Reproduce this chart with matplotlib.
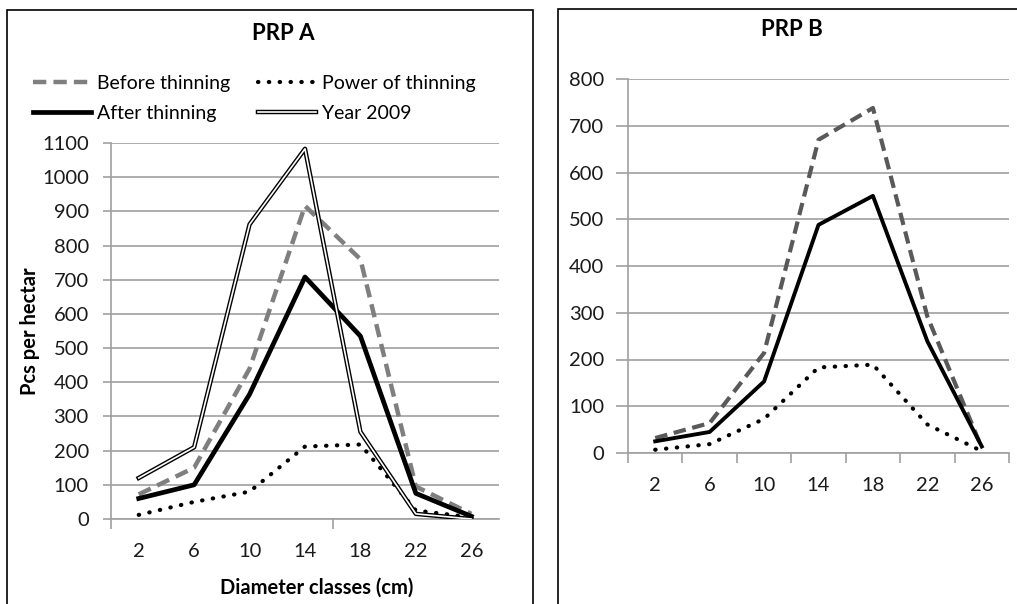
import matplotlib
matplotlib.use('Agg')
import matplotlib.pyplot as plt
from matplotlib.lines import Line2D
from matplotlib.patches import Rectangle

plt.rcParams['font.family'] = ['Lato', 'DejaVu Sans']

# categories (diameter classes, cm)
classes = ['2', '6', '10', '14', '18', '22', '26']

# PRP A
a_before = [72, 150, 440, 916, 760, 95, 15]
a_after = [60, 100, 365, 708, 535, 75, 8]
a_power = [12, 50, 80, 212, 218, 25, 5]
a_2009 = [120, 210, 862, 1083, 255, 15, 0]

# PRP B
b_before = [32, 64, 214, 670, 738, 292, 11]
b_after = [25, 45, 153, 488, 550, 239, 14]
b_power = [7, 19, 73, 183, 189, 61, 4]

W, H = 1017, 604
fig = plt.figure(figsize=(W / 100, H / 100), dpi=100)

# panel borders
fig.patches.append(Rectangle((7 / W, -0.05), 526 / W, 1.05 - 10 / H,
                             transform=fig.transFigure, fill=False,
                             edgecolor='black', lw=1.2))
fig.patches.append(Rectangle((558 / W, -0.05), 470 / W, 1.05 - 9 / H,
                             transform=fig.transFigure, fill=False,
                             edgecolor='black', lw=1.2))

grid_c = '#a0a0a0'
txt_c = '#1a1a1a'
x = list(range(len(classes)))
dots = (0, (0.1, 2.5))


def style_axes(ax, ymax, tick_len, xtick_bounds, ypad):
    ax.set_xlim(-0.5, len(classes) - 0.5)
    ax.set_ylim(0, ymax)
    ax.set_yticks(range(0, ymax + 1, 100))
    ax.yaxis.grid(True, color=grid_c, lw=1.2)
    ax.set_axisbelow(True)
    for s in ['top', 'right']:
        ax.spines[s].set_visible(False)
    for s in ['left', 'bottom']:
        ax.spines[s].set_color(grid_c)
        ax.spines[s].set_linewidth(1.2)
    ax.tick_params(axis='y', direction='out', length=tick_len, width=1.2,
                   color=grid_c, labelsize=14.5, pad=ypad, labelcolor=txt_c)
    ax.set_xticks(x)
    ax.set_xticklabels(classes)
    ax.tick_params(axis='x', which='major', length=0, pad=17, labelsize=14.5,
                   labelcolor=txt_c)
    ax.set_xticks(xtick_bounds, minor=True)
    ax.tick_params(axis='x', which='minor', direction='out', length=7,
                   width=1.2, color=grid_c)


# ---- PRP A ----
ax1 = fig.add_axes([111 / W, 1 - 519 / H, 388 / W, 376 / H])
style_axes(ax1, 1100, 6, [-0.5, 3.5], 10)
ax1.plot(x, a_before, color='#7f7f7f', lw=3.2, ls=(0, (3, 1.6)), zorder=3)
ax1.plot(x, a_power, color='black', lw=3.0, ls=dots,
         dash_capstyle='round', zorder=3)
ax1.plot(x, a_after, color='black', lw=3.4, zorder=4)
ax1.plot(x, a_2009, color='black', lw=3.2, zorder=5)
ax1.plot(x, a_2009, color='white', lw=1.2, zorder=6)
ax1.set_ylabel('Pcs per hectar', fontsize=14.5, fontweight='bold')
ax1.yaxis.set_label_coords(-0.182, 0.5)
ax1.set_xlabel('Diameter classes (cm)', fontsize=14.5, fontweight='bold')
ax1.xaxis.set_label_coords(0.53, -0.155)

fig.text(283 / W, 1 - 33 / H, 'PRP A', fontsize=16, fontweight='bold',
         ha='center', va='center')

h_before = Line2D([], [], color='#7f7f7f', lw=3.2, ls=(0, (3, 1.6)))
h_after = Line2D([], [], color='black', lw=3.4)
h_power = Line2D([], [], color='black', lw=3.0, ls=dots,
                 dash_capstyle='round')
h_2009 = (Line2D([], [], color='black', lw=3.2),
          Line2D([], [], color='white', lw=1.2))
fig.legend([h_before, h_after, h_power, h_2009],
           ['Before thinning', 'After thinning', 'Power of thinning', 'Year 2009'],
           loc='upper left', bbox_to_anchor=(33 / W, 1 - 75 / H), ncol=2,
           frameon=False, fontsize=14, handlelength=3.0, handletextpad=0.3,
           columnspacing=1.4, labelspacing=0.68, borderpad=0, borderaxespad=0)

# ---- PRP B ----
ax2 = fig.add_axes([628 / W, 1 - 453 / H, 381 / W, 374 / H])
style_axes(ax2, 800, 9, [i - 0.5 for i in range(len(classes) + 1)], 8)
ax2.plot(x, b_before, color='#595959', lw=3.0, ls=(0, (3, 1.6)), zorder=3)
ax2.plot(x, b_power, color='black', lw=3.0, ls=dots,
         dash_capstyle='round', zorder=3)
ax2.plot(x, b_after, color='black', lw=2.8, zorder=4)

fig.text(792 / W, 1 - 29 / H, 'PRP B', fontsize=16, fontweight='bold',
         ha='center', va='center')

fig.savefig('out.png', dpi=100)
